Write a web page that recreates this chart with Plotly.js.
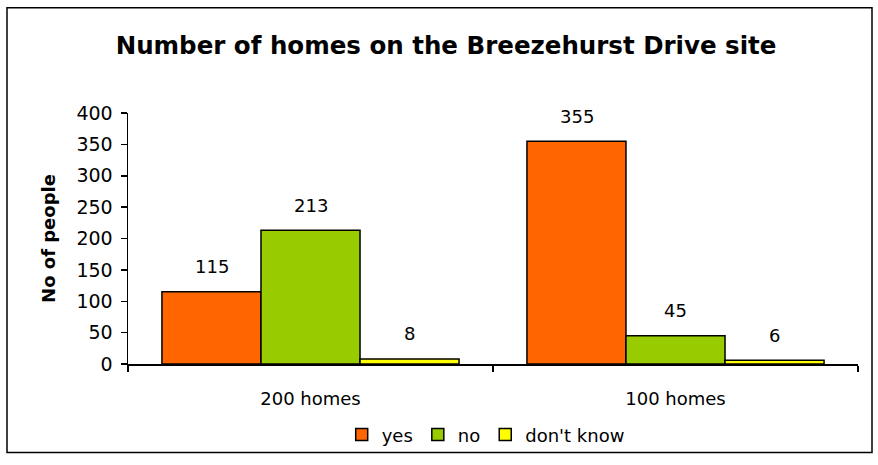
<!DOCTYPE html>
<html>
<head>
<meta charset="utf-8">
<script src="https://cdn.plot.ly/plotly-3.0.1.min.js"></script>
<style>html,body{margin:0;padding:0;background:#fff;}#chart{width:878px;height:465px;}</style>
</head>
<body>
<div id="chart"></div>
<script>
const categories = ["200 homes", "100 homes"];
const seriesNames = ["yes", "no", "don't know"];
const yesValues = [115, 355];
const noValues = [213, 45];
const dontKnowValues = [8, 6];
const seriesColors = ["#FF6600", "#99CC00", "#FFFF00"];
const yTickValues = [0, 50, 100, 150, 200, 250, 300, 350, 400];

const allValues = [yesValues, noValues, dontKnowValues];
const FONT = "DejaVu Sans, Arial, sans-serif";

const traces = allValues.map((vals, i) => ({
  type: "bar",
  name: seriesNames[i],
  x: categories,
  y: vals,
  marker: {color: seriesColors[i], line: {color: "#000", width: 1.5}},
  hoverinfo: "none"
}));

// data labels placed above bars via annotations, using the same data arrays
const offsets = [-1, 0, 1];
const annotations = [];
allValues.forEach((vals, i) => {
  vals.forEach((v, j) => {
    annotations.push({
      x: j, xref: "x", y: v, yref: "y",
      text: String(v), showarrow: false,
      xshift: offsets[i] * 99,
      yshift: 25,
      font: {family: FONT, size: 18, color: "#000"}
    });
  });
});

const layout = {
  width: 878, height: 465,
  margin: {l: 128, r: 20, t: 113, b: 97},
  paper_bgcolor: "#fff", plot_bgcolor: "#fff",
  font: {family: FONT, size: 18, color: "#000"},
  title: {
    text: "<b>Number of homes on the Breezehurst Drive site</b>",
    font: {family: FONT, size: 24.5, color: "#000"},
    x: 0.508, xanchor: "center", y: 0.903, yanchor: "middle"
  },
  barmode: "group",
  bargap: 0.186,
  bargroupgap: 0,
  showlegend: true,
  legend: {
    orientation: "h", x: 0.49, xanchor: "center", y: -0.282, yanchor: "middle",
    font: {family: FONT, size: 18}, traceorder: "normal",
    bgcolor: "rgba(0,0,0,0)",
    itemwidth: 30, tracegroupgap: 0
  },
  xaxis: {
    type: "category",
    showline: true, linecolor: "#000", linewidth: 1.5,
    ticks: "outside", ticklen: 6, tickcolor: "#000", tickwidth: 1.5,
    tickson: "boundaries",
    ticklabelstandoff: 18,
    showgrid: false, zeroline: false,
    tickfont: {family: FONT, size: 18}
  },
  yaxis: {
    range: [0, 400],
    tickvals: yTickValues,
    showline: true, linecolor: "#000", linewidth: 1.5,
    ticks: "outside", ticklen: 6, tickcolor: "#000", tickwidth: 1.5,
    ticklabelstandoff: 4,
    showgrid: false, zeroline: false,
    tickfont: {family: FONT, size: 19},
    title: {text: "<b>No of people</b>", font: {family: FONT, size: 18}, standoff: 16}
  },
  annotations: annotations,
  shapes: [{
    type: "rect", xref: "paper", yref: "paper",
    x0: (7 - 128) / 730, x1: (872 - 128) / 730,
    y0: (368 - 458) / 255, y1: (368 - 6) / 255,
    line: {color: "#000", width: 1.5}, fillcolor: "rgba(0,0,0,0)", layer: "below"
  }]
};

Plotly.newPlot("chart", traces, layout, {displayModeBar: false, staticPlot: true});
</script>
</body>
</html>
